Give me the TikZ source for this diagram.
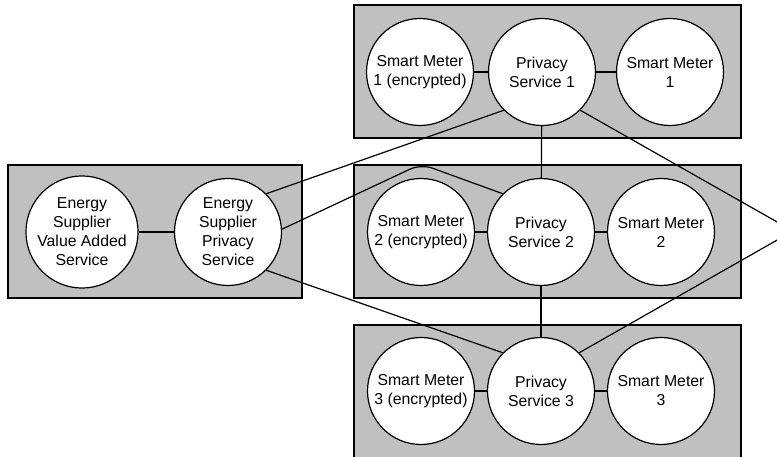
\documentclass[tikz,border=0pt]{standalone}
\usepackage{fontspec}
\setmainfont{Liberation Sans}
\definecolor{panelgray}{HTML}{C0C0C0}
\begin{document}
\begin{tikzpicture}[x=1pt,y=-1pt,
  panel/.style={fill=panelgray, draw=black, line width=1.2pt},
  unit/.style={circle, draw=black, fill=white, line width=1.2pt,
    minimum size=107pt, inner sep=0pt, align=center,
    font=\fontsize{15.8}{19}\selectfont},
  link/.style={draw=black, line width=1.2pt}]
\clip (0,0) rectangle (777,457);
\fill[white] (0,0) rectangle (777,457);

% group panels
\draw[panel] (354,5)   rectangle (741,138);
\draw[panel] (354,165) rectangle (741,298);
\draw[panel] (354,325) rectangle (741,458);
\draw[panel] (8,165)   rectangle (302,298);

% energy supplier side
\node[unit] (esvas) at (82,232)  {Energy\\Supplier\\Value Added\\Service};
\node[unit] (esps)  at (228,232) {Energy\\Supplier\\Privacy\\Service};

% household 1
\node[unit] (sm1e) at (420,72) {Smart Meter\\1 (encrypted)};
\node[unit] (ps1)  at (542,72) {Privacy\\Service 1};
\node[unit] (sm1)  at (670,72) {Smart Meter\\1};

% household 2
\node[unit] (sm2e) at (421,232) {Smart Meter\\2 (encrypted)};
\node[unit] (ps2)  at (541,232) {Privacy\\Service 2};
\node[unit] (sm2)  at (661,232) {Smart Meter\\2};

% household 3
\node[unit] (sm3e) at (421,391) {Smart Meter\\3 (encrypted)};
\node[unit] (ps3)  at (541,391) {Privacy\\Service 3};
\node[unit] (sm3)  at (661,391) {Smart Meter\\3};

\coordinate (bend) at (421,164);
\coordinate (farpoint) at (793,231);

% local links
\draw[link] (esvas) -- (esps);
\draw[link] (sm1e) -- (ps1);
\draw[link] (ps1) -- (sm1);
\draw[link] (sm2e) -- (ps2);
\draw[link] (ps2) -- (sm2);
\draw[link] (sm3e) -- (ps3);
\draw[link] (ps3) -- (sm3);

% privacy service network
\draw[link] (ps1) -- (ps2);
\draw[link] (ps2) -- (ps3);
\draw[link] (esps.45) -- (ps1.225);
\draw[link, rounded corners=12pt] (esps.3) -- (bend) -- (ps2.135);
\draw[link] (esps.-45) -- (ps3.135);
\draw[link] (ps1.-45) -- (farpoint) -- (ps3.45);
\end{tikzpicture}
\end{document}
